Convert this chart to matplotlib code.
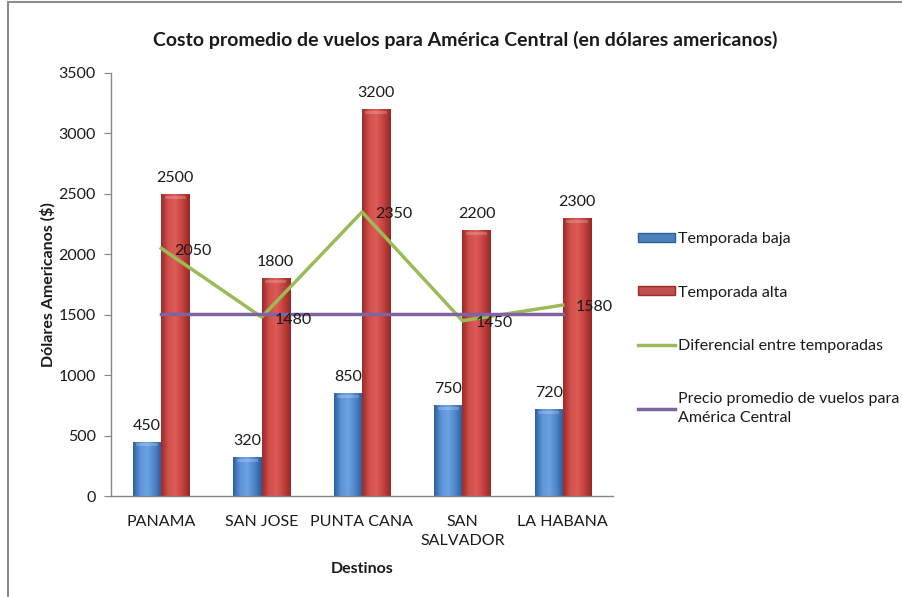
import matplotlib

matplotlib.use("Agg")
import matplotlib.pyplot as plt
import numpy as np
from matplotlib.colors import LinearSegmentedColormap
from matplotlib.lines import Line2D
from matplotlib.patches import Patch, Rectangle

plt.rcParams["font.family"] = ["Lato", "DejaVu Sans"]

destinos = ["PANAMA", "SAN JOSE", "PUNTA CANA", "SAN\nSALVADOR", "LA HABANA"]
temporada_baja = [450, 320, 850, 750, 720]
temporada_alta = [2500, 1800, 3200, 2200, 2300]
diferencial = [2050, 1480, 2350, 1450, 1580]
precio_promedio = [1509, 1509, 1509, 1509, 1509]

BLUE = "#4f81bd"
RED = "#c0504d"
GREEN = "#9bbb59"
PURPLE = "#8064a2"
TXT = "#1a1a1a"
FS = 11.5

blue_cmap = LinearSegmentedColormap.from_list("b", ["#2d5f9e", "#5d95d8", "#6aa2e4", "#4f84c6", "#2a5a96"])
red_cmap = LinearSegmentedColormap.from_list("r", ["#9c2b28", "#d2504c", "#dc5c58", "#c4413e", "#962826"])


def gradient_bars(ax, bars, cmap):
    grad = np.linspace(0, 1, 64).reshape(1, -1)
    for b in bars:
        x0, y0 = b.get_x(), b.get_y()
        w, h = b.get_width(), b.get_height()
        im = ax.imshow(grad, cmap=cmap, aspect="auto", extent=(x0, x0 + w, y0, y0 + h),
                       zorder=b.get_zorder() + 0.1, interpolation="bicubic")
        im.set_clip_path(b)
        # bevel highlight along the top edge
        ax.add_patch(Rectangle((x0 + w * 0.12, y0 + h - 40), w * 0.76, 25,
                               facecolor="white", alpha=0.2, linewidth=0,
                               zorder=b.get_zorder() + 0.2))


fig = plt.figure(figsize=(9.03, 5.97), dpi=100)
ax = fig.add_axes([111 / 903, 101 / 597, 502 / 903, 423 / 597])

x = np.arange(len(destinos))
w = 0.28
bars_baja = ax.bar(x - w / 2, temporada_baja, w, color=BLUE, linewidth=0, zorder=2)
bars_alta = ax.bar(x + w / 2, temporada_alta, w, color=RED, linewidth=0, zorder=2)
gradient_bars(ax, bars_baja, blue_cmap)
gradient_bars(ax, bars_alta, red_cmap)

ax.plot(x, diferencial, color=GREEN, linewidth=2.5, zorder=4)
ax.plot(x, precio_promedio, color=PURPLE, linewidth=2.5, zorder=4)

for xi, v in zip(x, temporada_baja):
    ax.text(xi - w / 2, v + 75, f"{v}", ha="center", va="bottom", fontsize=FS, color=TXT, zorder=5)
for xi, v in zip(x, temporada_alta):
    ax.text(xi + w / 2, v + 75, f"{v}", ha="center", va="bottom", fontsize=FS, color=TXT, zorder=5)
for xi, v in zip(x, diferencial):
    ax.text(xi + 0.13, v - 20, f"{v}", ha="left", va="center", fontsize=FS, color=TXT, zorder=5)

ax.set_xlim(-0.5, len(destinos) - 0.5)
ax.set_ylim(0, 3500)
ax.set_yticks(np.arange(0, 3501, 500))
ax.set_xticks(x)
ax.set_xticklabels(destinos, fontsize=FS, color=TXT, linespacing=1.4)
ax.tick_params(axis="x", length=0, pad=14)
ax.tick_params(axis="y", length=5, color="#868686", labelsize=FS, labelcolor=TXT, pad=6)
for side in ("top", "right"):
    ax.spines[side].set_visible(False)
for side in ("left", "bottom"):
    ax.spines[side].set_color("#868686")
    ax.spines[side].set_linewidth(1)

ax.set_ylabel("Dólares Americanos ($)", fontsize=FS, fontweight="bold", color=TXT)
ax.yaxis.set_label_coords(-55 / 502, 0.5)
ax.set_xlabel("Destinos", fontsize=FS, fontweight="bold", color=TXT, labelpad=10)
fig.text(465 / 903, 1 - 40 / 597, "Costo promedio de vuelos para América Central (en dólares americanos)",
         ha="center", va="center", fontsize=14, fontweight="bold", color=TXT)

handles = [
    Patch(facecolor=BLUE, edgecolor="#2d5f9e"),
    Patch(facecolor=RED, edgecolor="#9c2b28"),
    Line2D([], [], color=GREEN, linewidth=2.5),
    Line2D([], [], color=PURPLE, linewidth=2.5),
]
labels = ["Temporada baja", "Temporada alta", "Diferencial entre temporadas",
          "Precio promedio de vuelos para\nAmérica Central"]
leg = fig.legend(handles, labels, loc="upper left", bbox_to_anchor=(632 / 903, 1 - 226 / 597),
                 frameon=False, fontsize=FS, handlelength=2.3, handleheight=0.5,
                 handletextpad=0.2, labelspacing=2.45, borderaxespad=0, labelcolor=TXT)
for t in leg.get_texts():
    t.set_linespacing(1.45)

# chart border
fig.add_artist(Rectangle((8 / 903, -0.05), 1.0, 1.05 - 1.5 / 597, transform=fig.transFigure,
                         fill=False, edgecolor="#8c8c8c", linewidth=1.5))

fig.savefig("out.png", dpi=100)
